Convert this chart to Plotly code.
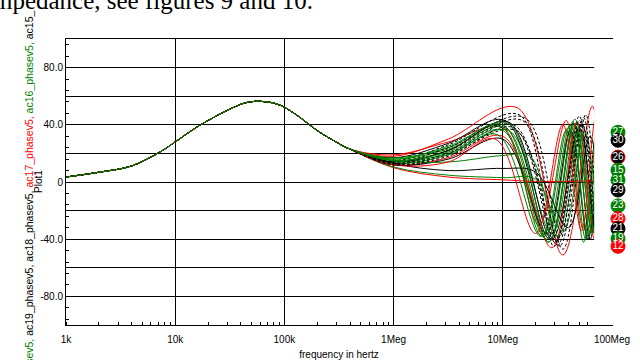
import plotly.graph_objects as go

# ---- data (x in log10 of frequency in hertz, y = phase) ----
common_f = [3.0, 3.3, 3.6, 3.85, 4.0, 4.2, 4.45, 4.65, 4.8, 4.95, 5.1, 5.3, 5.45, 5.6]
common_v = [3.5, 6.8, 11.2, 20.5, 28, 38.5, 49, 55.5, 56.3, 54, 47.5, 36, 29, 23]

ac8_f = [6.0, 6.5, 7.05, 7.45, 7.67, 7.83, 7.95, 8.0]
ac8_v = [14, 20, 36, -36, 38, -30, 30, 10]
ac9_f = [6.0, 6.5, 7.12, 7.5, 7.73, 7.88, 7.98, 8.0]
ac9_v = [12, 19, 36, -40, 40, -38, 42, 35]
ac10_f = [6.0, 6.5, 7.0, 7.33, 7.58, 7.74, 7.88, 8.0]
ac10_v = [19, 28, 38, -30, 43, -34, 40, -20]
ac11_f = [6.0, 6.5, 7.02, 7.43, 7.65, 7.8, 7.92, 8.0]
ac11_v = [17, 27, 43, -40, 41, -40, 40, -10]
ac12_f = [6.0, 6.5, 7.13, 7.55, 7.82, 7.96, 8.0]
ac12_v = [18, 30, 52, -51, 53, -50, -45]
ac13_f = [6.0, 6.5, 7.15, 7.47, 7.7, 7.85, 7.96, 8.0]
ac13_v = [15, 26, 47, -45, 46, -38, 40, 30]
ac14_f = [6.0, 6.5, 7.0, 7.4, 7.64, 7.8, 7.92, 8.0]
ac14_v = [17, 24, 40, -40, 42, -35, 35, 0]
ac15_f = [6.0, 6.5, 7.02, 7.42, 7.66, 7.82, 7.94, 8.0]
ac15_v = [16, 23, 38, -42, 40, -36, 38, 8]
ac16_f = [6.0, 6.5, 6.98, 7.36, 7.6, 7.76, 7.88, 7.98, 8.0]
ac16_v = [15, 22, 39, -38, 38, -40, 36, -30, -20]
ac17_f = [6.0, 6.5, 7.0, 7.45, 7.68, 7.84, 7.95, 8.0]
ac17_v = [12, 17, 32, -46, 42, -40, 38, 20]
ac18_f = [6.0, 6.5, 7.05, 7.45, 7.7, 7.86, 7.97, 8.0]
ac18_v = [14, 22, 42, -40, 38, -38, 35, 25]
ac19_f = [6.0, 6.5, 6.95, 7.35, 7.58, 7.74, 7.86, 7.96, 8.0]
ac19_v = [13, 19, 33, -38, 36, -42, 37, -42, -40]
ac20_f = [6.0, 6.5, 7.2, 7.55, 7.76, 7.9, 8.0]
ac20_v = [14, 24, 45, -47, 47, -40, 45]
ac21_f = [6.0, 6.5, 7.0, 7.4, 7.62, 7.78, 7.9, 8.0]
ac21_v = [12, 16, 30, -36, 36, -40, 30, -33]
ac22_f = [6.0, 6.5, 7.1, 7.5, 7.72, 7.88, 8.0]
ac22_v = [13, 20, 40, -44, 42, -42, 30]
ac23_f = [6.0, 6.5, 7.0, 7.25, 7.5, 7.7, 7.85, 7.97, 8.0]
ac23_v = [15, 14, 18.5, 18, -38, 36, -36, -10, -17]
ac24_f = [6.0, 6.5, 7.0, 7.3, 7.6, 7.8, 8.0]
ac24_v = [10, 3.5, 1.5, 0.5, 0.5, 0.8, 1.0]
ac25_f = [6.0, 6.5, 7.0, 7.3, 7.55, 7.75, 7.9, 8.0]
ac25_v = [10.5, 4.8, 3, 2, -35, 35, -30, 20]
ac26_f = [6.0, 6.5, 7.0, 7.3, 7.6, 7.8, 7.93, 8.0]
ac26_v = [13, 8, 9.5, 7, -32, 32, -30, 17]
ac27_f = [6.0, 6.5, 7.05, 7.42, 7.66, 7.82, 7.94, 8.0]
ac27_v = [16, 25, 41, -42, 44, -36, 42, 35]
ac28_f = [6.0, 6.5, 6.93, 7.3, 7.55, 7.72, 7.85, 7.96, 8.0]
ac28_v = [12, 14, 30, -36, 40, -34, 44, -28, -26]
ac29_f = [6.0, 6.5, 7.18, 7.52, 7.74, 7.88, 7.98, 8.0]
ac29_v = [13, 22, 43, -45, 45, -36, -4, -6]
ac30_f = [6.0, 6.5, 7.1, 7.48, 7.7, 7.86, 7.97, 8.0]
ac30_v = [12, 18, 38, -42, 43, -34, 38, 29]
ac31_f = [6.0, 6.5, 7.0, 7.38, 7.62, 7.78, 7.9, 8.0]
ac31_v = [15, 21, 36, -38, 40, -38, 34, 1.5]

series_names = ["ac8", "ac9", "ac10", "ac11", "ac12", "ac13", "ac14", "ac15", "ac16",
                "ac17", "ac18", "ac19", "ac20", "ac21", "ac22", "ac23", "ac24", "ac25",
                "ac26", "ac27", "ac28", "ac29", "ac30", "ac31"]
series_f = [ac8_f, ac9_f, ac10_f, ac11_f, ac12_f, ac13_f, ac14_f, ac15_f, ac16_f,
            ac17_f, ac18_f, ac19_f, ac20_f, ac21_f, ac22_f, ac23_f, ac24_f, ac25_f,
            ac26_f, ac27_f, ac28_f, ac29_f, ac30_f, ac31_f]
series_v = [ac8_v, ac9_v, ac10_v, ac11_v, ac12_v, ac13_v, ac14_v, ac15_v, ac16_v,
            ac17_v, ac18_v, ac19_v, ac20_v, ac21_v, ac22_v, ac23_v, ac24_v, ac25_v,
            ac26_v, ac27_v, ac28_v, ac29_v, ac30_v, ac31_v]

label_text = ["27", "30", "26", "15", "31", "29", "23", "28", "21", "19", "12"]
label_val = [34.8, 29.2, 17.4, 8.3, 1.4, -5.6, -16.7, -25.7, -32.7, -39.7, -45]

x_tickvals = [1e3, 1e4, 1e5, 1e6, 1e7, 1e8]
x_ticktext = ["1k", "10k", "100k", "1Meg", "10Meg", "100Meg"]
y_tickvals = [-100, -80, -60, -40, -20, 0, 20, 40, 60, 80, 100]
y_ticktext = ["", "-80.0", "", "-40.0", "", "0", "", "40.0", "", "80.0", ""]

# ---- styles ----
RED = "#ff0000"
GRN = "#008000"
BLK = "#000000"
series_color = [GRN, BLK, RED, BLK, RED, BLK, GRN, GRN, GRN,
                RED, BLK, GRN, BLK, BLK, BLK, GRN, RED, GRN,
                BLK, GRN, RED, BLK, BLK, GRN]
series_dash = ["solid", "3px,2px", "solid", "solid", "solid", "3px,2px", "solid", "solid", "solid",
               "solid", "solid", "solid", "3px,2px", "solid", "3px,2px", "solid", "solid", "solid",
               "solid", "solid", "solid", "3px,2px", "3px,2px", "solid"]
label_color = [GRN, BLK, BLK, GRN, GRN, BLK, GRN, RED, BLK, GRN, RED]
label_edge = [GRN, BLK, RED, GRN, GRN, BLK, GRN, RED, BLK, GRN, RED]

FONT = "Liberation Sans, Arial, sans-serif"

# layout geometry: plot area 66..612 px, labels column drawn in a hidden side axis
ML, MR, MT, MB = 66, 18, 39, 35
PAPER_W = 640 - ML - MR
MAIN_END = 546 / PAPER_W
SIDE_START = 0.95

fig = go.Figure()
for name, fs, vs, col, dsh in zip(series_names, series_f, series_v, series_color, series_dash):
    xs = [10 ** f for f in common_f + fs]
    ys = common_v + vs
    fig.add_trace(go.Scatter(
        x=xs, y=ys, mode="lines", name=name,
        line=dict(color=col, width=1, dash=dsh, shape="spline", smoothing=1.0),
        hoverinfo="skip", showlegend=False,
    ))

side_x = (618 - (ML + SIDE_START * PAPER_W)) / ((1 - SIDE_START) * PAPER_W)
fig.add_trace(go.Scatter(
    x=[side_x] * len(label_text), y=label_val, mode="markers+text",
    xaxis="x2", yaxis="y2",
    text=label_text, textposition="middle center",
    textfont=dict(color="white", size=10, family=FONT),
    marker=dict(size=14, color=label_color, line=dict(color=label_edge, width=1)),
    cliponaxis=False, showlegend=False, hoverinfo="skip",
))

fig.update_layout(
    xaxis=dict(
        domain=[0, MAIN_END], automargin=False,
        type="log", range=[3, 8],
        tickmode="array", tickvals=x_tickvals, ticktext=x_ticktext,
        showgrid=True, gridcolor="black", gridwidth=1,
        showline=True, linecolor="black", linewidth=1, mirror=True,
        ticks="", ticklabelstandoff=5,
        tickfont=dict(family=FONT, size=10, color="black"),
        minor=dict(dtick="D1", ticks="inside", ticklen=3, tickcolor="black", showgrid=False),
        title=dict(text="frequency in hertz", font=dict(family=FONT, size=10, color="black"), standoff=6),
        zeroline=False,
    ),
    yaxis=dict(
        range=[-100, 100], automargin=False,
        tickmode="array", tickvals=y_tickvals, ticktext=y_ticktext,
        showgrid=True, gridcolor="black", gridwidth=1,
        showline=True, linecolor="black", linewidth=1, mirror=True,
        ticks="", tickfont=dict(family=FONT, size=10, color="black"),
        minor=dict(tickmode="linear", tick0=0, dtick=8, ticks="inside", ticklen=3,
                   tickcolor="black", showgrid=False),
        zeroline=False,
    ),
    xaxis2=dict(domain=[SIDE_START, 1.0], range=[0, 1], visible=False, anchor="y2", automargin=False),
    yaxis2=dict(domain=[0, 1], range=[-100, 100], visible=False, anchor="x2", automargin=False),
)

series_label = (
    "<span style='color:#008000'>ac20_phasev5, </span>"
    "<span style='color:#000000'>ac19_phasev5, ac18_phasev5, </span>"
    "<span style='color:#ff0000'>ac17_phasev5, </span>"
    "<span style='color:#008000'>ac16_phasev5, </span>"
    "<span style='color:#000000'>ac15_</span>"
)
fig.add_annotation(
    text=series_label, textangle=-90, xref="paper", yref="paper",
    x=(29 - ML) / PAPER_W, y=(325 - 9) / 286, xanchor="center", yanchor="top", showarrow=False,
    font=dict(family=FONT, size=10.5), borderpad=0,
)
fig.add_annotation(
    text="Plot1", textangle=-90, xref="paper", yref="paper",
    x=(38 - ML) / PAPER_W, y=0.5, xanchor="center", yanchor="middle", showarrow=False,
    font=dict(family=FONT, size=10, color="black"), borderpad=0,
)
fig.add_annotation(
    text="impedance, see figures 9 and 10.", xref="paper", yref="paper",
    x=(314 - ML) / PAPER_W, y=(325 - 15) / 286, xanchor="right", yanchor="bottom",
    showarrow=False, font=dict(family="Liberation Serif, Times New Roman, serif", size=25, color="black"),
    borderpad=0,
)

fig.update_layout(
    width=640, height=360,
    margin=dict(l=ML, r=MR, t=MT, b=MB, autoexpand=False),
    paper_bgcolor="white", plot_bgcolor="white",
    showlegend=False,
)

fig.write_html("out.html")
